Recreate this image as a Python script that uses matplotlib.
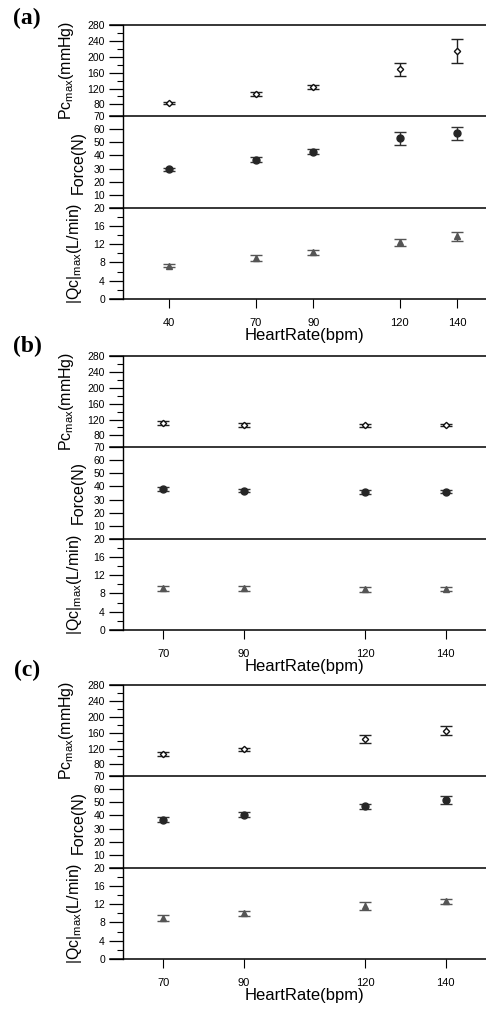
import matplotlib
matplotlib.use("Agg")
import matplotlib.pyplot as plt
from matplotlib.ticker import FixedLocator

plt.rcParams['font.family'] = ['Liberation Sans', 'DejaVu Sans']
plt.rcParams['mathtext.fontset'] = 'custom'
plt.rcParams['mathtext.rm'] = 'Liberation Sans'

# panel (a)
hr_a = [40, 70, 90, 120, 140]
pc_a = [84, 106, 125, 168, 215]
pc_a_err = [2, 6, 5, 17, 31]
force_a = [29.3, 36.7, 42.8, 53.3, 56.9]
force_a_err = [1.0, 1.9, 1.8, 4.9, 5.3]
qc_a = [7.3, 9.0, 10.2, 12.4, 13.7]
qc_a_err = [0.4, 0.6, 0.6, 0.8, 1.0]

# panel (b)
hr_b = [70, 90, 120, 140]
pc_b = [111, 107, 106, 107]
pc_b_err = [6, 5, 4, 3]
force_b = [37.9, 36.9, 35.9, 36.1]
force_b_err = [1.5, 1.5, 1.3, 1.3]
qc_b = [9.1, 9.1, 8.9, 9.0]
qc_b_err = [0.6, 0.5, 0.5, 0.4]

# panel (c)
hr_c = [70, 90, 120, 140]
pc_c = [107, 118, 143, 165]
pc_c_err = [5, 3, 10, 12]
force_c = [36.7, 40.5, 46.9, 51.8]
force_c_err = [1.8, 1.8, 2.0, 3.0]
qc_c = [9.0, 10.0, 11.6, 12.6]
qc_c_err = [0.6, 0.5, 0.8, 0.5]

W, H = 486, 1010
fig = plt.figure(figsize=(W / 100, H / 100), dpi=100)

panels = [
    ("(a)", 25, 299, (24, 150), hr_a, pc_a, pc_a_err, force_a, force_a_err, qc_a, qc_a_err, 18),
    ("(b)", 356, 630, (60, 150), hr_b, pc_b, pc_b_err, force_b, force_b_err, qc_b, qc_b_err, 346),
    ("(c)", 685, 959, (60, 150), hr_c, pc_c, pc_c_err, force_c, force_c_err, qc_c, qc_c_err, 670),
]

left = 123 / W
ext = -13 / (W - 123)


def style_axis(ax, xlim):
    ax.set_xlim(*xlim)
    for s in ['right', 'bottom', 'top']:
        ax.spines[s].set_visible(False)
    ax.spines['left'].set_linewidth(1.0)
    ax.tick_params(axis='y', which='major', direction='out', length=10, width=0.9,
                   labelsize=7.5, pad=3)
    ax.tick_params(axis='y', which='minor', direction='out', length=4.5, width=0.8)
    ax.plot([ext, 1], [1, 1], transform=ax.transAxes, clip_on=False, color='k', lw=1.1)


for lab, top, bot, xlim, hr, pc, pce, fo, foe, qc, qce, ly in panels:
    h = (bot - top) / 3
    ax1 = fig.add_axes([left, 1 - (top + h) / H, 1 - left, h / H])
    ax2 = fig.add_axes([left, 1 - (top + 2 * h) / H, 1 - left, h / H])
    ax3 = fig.add_axes([left, 1 - bot / H, 1 - left, h / H])

    ax1.errorbar(hr, pc, yerr=pce, fmt='D', ms=3.2, mfc='white', mec='#111111', mew=1.0,
                 ecolor='#222222', elinewidth=1.0, capsize=4.5, capthick=1.0)
    ax1.set_ylim(50, 280)
    ax1.set_yticks([80, 120, 160, 200, 240, 280])
    ax1.yaxis.set_minor_locator(FixedLocator([100, 140, 180, 220, 260]))
    ax1.set_ylabel(r'Pc$_{\mathregular{max}}$(mmHg)', fontsize=11.5)

    ax2.errorbar(hr, fo, yerr=foe, fmt='o', ms=5, color='#262626',
                 ecolor='#333333', elinewidth=1.0, capsize=4.5, capthick=1.0)
    ax2.set_ylim(0, 70)
    ax2.set_yticks([10, 20, 30, 40, 50, 60, 70])
    ax2.set_ylabel('Force(N)', fontsize=11.5)

    ax3.errorbar(hr, qc, yerr=qce, fmt='^', ms=4.5, color='#555555',
                 ecolor='#555555', elinewidth=1.0, capsize=4.5, capthick=1.0)
    ax3.set_ylim(0, 20)
    ax3.set_yticks([0, 4, 8, 12, 16, 20])
    ax3.yaxis.set_minor_locator(FixedLocator([2, 6, 10, 14, 18]))
    ax3.set_ylabel(r'|Qc|$_{\mathregular{max}}$(L/min)', fontsize=11.5)

    for ax in (ax1, ax2, ax3):
        style_axis(ax, xlim)
    for ax in (ax1, ax2):
        ax.set_xticks([])

    ax3.plot([ext, 1], [0, 0], transform=ax3.transAxes, clip_on=False, color='k', lw=1.1)
    ax3.set_xticks(hr)
    ax3.tick_params(axis='x', direction='out', length=6.5, width=0.8, labelsize=8, pad=7)
    ax3.set_xlabel('HeartRate(bpm)', fontsize=12, labelpad=0)

    ax1.yaxis.set_label_coords(-0.13, 0.5)
    ax2.yaxis.set_label_coords(-0.102, 0.5)
    ax3.yaxis.set_label_coords(-0.108, 0.5)

    fig.text(27 / W, 1 - ly / H, lab, family=['Liberation Serif', 'DejaVu Serif'],
             fontweight='bold', fontsize=17, ha='center', va='center')

fig.savefig('out.png', dpi=100)
